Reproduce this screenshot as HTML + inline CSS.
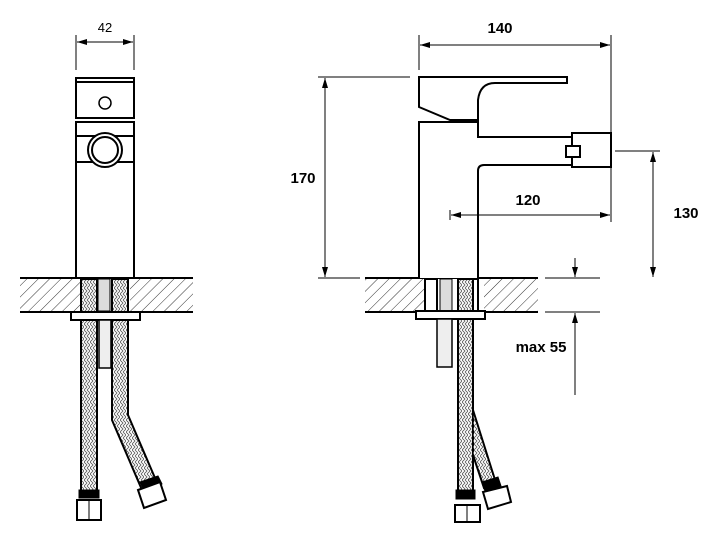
<!DOCTYPE html>
<html><head><style>body{margin:0;background:#fff}svg{display:block}text{font-family:"Liberation Sans",sans-serif}</style></head>
<body>
<svg width="723" height="545" viewBox="0 0 723 545" xmlns="http://www.w3.org/2000/svg">
<defs>
<pattern id="h" width="8" height="8" patternUnits="userSpaceOnUse" patternTransform="rotate(45)"><line x1="0" y1="0" x2="0" y2="8" stroke="#333" stroke-width="1"/></pattern>
<pattern id="hz" width="6" height="6" patternUnits="userSpaceOnUse"><path d="M0 0 L3 3 L0 6 M3 0 L6 3 L3 6" stroke="#555" fill="none" stroke-width="0.8"/></pattern>
<marker id="a" markerWidth="10" markerHeight="6" refX="10" refY="3" orient="auto"><path d="M0 0 L10 3 L0 6z" fill="#000"/></marker>
</defs>
<g stroke="#000" fill="none" stroke-width="1">
<!-- LEFT -->
<rect x="20" y="278" width="173" height="34" fill="url(#h)" stroke="none"/>
<line x1="20" y1="278" x2="193" y2="278" stroke-width="2"/><line x1="20" y1="312" x2="193" y2="312" stroke-width="2"/>
<rect x="80" y="279" width="50" height="32" fill="#fff" stroke="none"/>
<rect x="98" y="279" width="12" height="32" fill="#ddd"/>
<g stroke-width="2" fill="#fff">
<rect x="76" y="78" width="58" height="40"/>
<line x1="76" y1="82" x2="134" y2="82"/>
<rect x="76" y="122" width="58" height="156"/>
<line x1="76" y1="136" x2="134" y2="136"/><line x1="76" y1="162" x2="134" y2="162"/>
<circle cx="105" cy="150" r="17"/><circle cx="105" cy="150" r="13"/>
<circle cx="105" cy="103" r="6" stroke-width="1.5"/>
<rect x="71" y="312" width="69" height="8"/>
</g>
<rect x="81" y="279" width="16" height="33" fill="url(#hz)" stroke-width="2"/>
<rect x="112" y="279" width="16" height="33" fill="url(#hz)" stroke-width="2"/>
<rect x="81" y="320" width="16" height="172" fill="url(#hz)" stroke-width="2"/>
<path d="M112 320 L128 320 L128 415 L158 485 L142 490 L112 420 Z" fill="url(#hz)" stroke-width="2"/>
<rect x="99" y="320" width="12" height="48" fill="#eee" stroke-width="1.5"/>
<rect x="79" y="490" width="20" height="8" fill="#000"/>
<path d="M77 500 L101 500 L101 520 L77 520Z" fill="#fff" stroke-width="2"/><line x1="89" y1="500" x2="89" y2="520"/>
<path d="M140 482 L158 476 L162 484 L144 490Z" fill="#000"/>
<path d="M138 490 L160 482 L166 500 L144 508Z" fill="#fff" stroke-width="2"/>
<line x1="76" y1="35" x2="76" y2="70"/><line x1="134" y1="35" x2="134" y2="70"/>
<line x1="105" y1="42" x2="77" y2="42" marker-end="url(#a)"/><line x1="105" y1="42" x2="133" y2="42" marker-end="url(#a)"/>
<!-- RIGHT -->
<rect x="365" y="278" width="173" height="34" fill="url(#h)" stroke="none"/>
<line x1="365" y1="278" x2="538" y2="278" stroke-width="2"/><line x1="365" y1="312" x2="538" y2="312" stroke-width="2"/>
<rect x="424" y="279" width="60" height="32" fill="#fff" stroke="none"/>
<rect x="425" y="279" width="12" height="32" stroke-width="2"/>
<rect x="440" y="279" width="12" height="32" fill="#ddd"/>
<rect x="458" y="279" width="15" height="32" fill="url(#hz)" stroke-width="2"/>
<rect x="473" y="279" width="5" height="32" stroke-width="2"/>
<g stroke-width="2" fill="#fff">
<path d="M419 278 L419 122 L478 122 L478 137 L572 137 L572 165 L484 165 Q478 165 478 171 L478 278"/>
<path d="M419 77 L567 77 L567 83 L495 83 Q480 83 478 100 L478 120 L450 120 L419 107 Z"/>
<rect x="572" y="133" width="39" height="34"/>
<rect x="566" y="146" width="14" height="11"/>
<rect x="416" y="311" width="69" height="8"/>
</g>
<rect x="458" y="319" width="15" height="172" fill="url(#hz)" stroke-width="2"/>
<path d="M473 410 L496 483 L484 488 L473 455" fill="url(#hz)" stroke-width="2"/>
<rect x="437" y="319" width="15" height="48" fill="#eee" stroke-width="1.5"/>
<rect x="456" y="490" width="19" height="9" fill="#000"/>
<path d="M455 505 L480 505 L480 522 L455 522Z" fill="#fff" stroke-width="2"/><line x1="467" y1="505" x2="467" y2="522"/>
<path d="M482 482 L498 477 L501 486 L485 491Z" fill="#000"/>
<path d="M483 492 L507 486 L511 502 L488 509Z" fill="#fff" stroke-width="2"/>
<!-- dims right -->
<line x1="419" y1="35" x2="419" y2="70"/><line x1="611" y1="35" x2="611" y2="222"/>
<line x1="515" y1="45" x2="420" y2="45" marker-end="url(#a)"/><line x1="515" y1="45" x2="610" y2="45" marker-end="url(#a)"/>
<line x1="318" y1="77" x2="410" y2="77"/><line x1="318" y1="278" x2="360" y2="278"/>
<line x1="325" y1="170" x2="325" y2="78" marker-end="url(#a)"/><line x1="325" y1="170" x2="325" y2="277" marker-end="url(#a)"/>
<line x1="615" y1="151" x2="660" y2="151"/>
<line x1="653" y1="210" x2="653" y2="152" marker-end="url(#a)"/><line x1="653" y1="210" x2="653" y2="277" marker-end="url(#a)"/>
<line x1="450" y1="210" x2="450" y2="220"/>
<line x1="530" y1="215" x2="451" y2="215" marker-end="url(#a)"/><line x1="530" y1="215" x2="610" y2="215" marker-end="url(#a)"/>
<line x1="545" y1="278" x2="600" y2="278"/><line x1="545" y1="312" x2="600" y2="312"/>
<line x1="575" y1="258" x2="575" y2="277" marker-end="url(#a)"/>
<line x1="575" y1="395" x2="575" y2="313" marker-end="url(#a)"/>
</g>
<g fill="#000">
<text x="105" y="32" font-size="13" text-anchor="middle">42</text>
<text x="500" y="33" font-size="15" font-weight="bold" text-anchor="middle">140</text>
<text x="303" y="183" font-size="15" font-weight="bold" text-anchor="middle">170</text>
<text x="528" y="205" font-size="15" font-weight="bold" text-anchor="middle">120</text>
<text x="686" y="218" font-size="15" font-weight="bold" text-anchor="middle">130</text>
<text x="541" y="352" font-size="15" font-weight="bold" text-anchor="middle">max 55</text>
</g>
</svg>
</body></html>
